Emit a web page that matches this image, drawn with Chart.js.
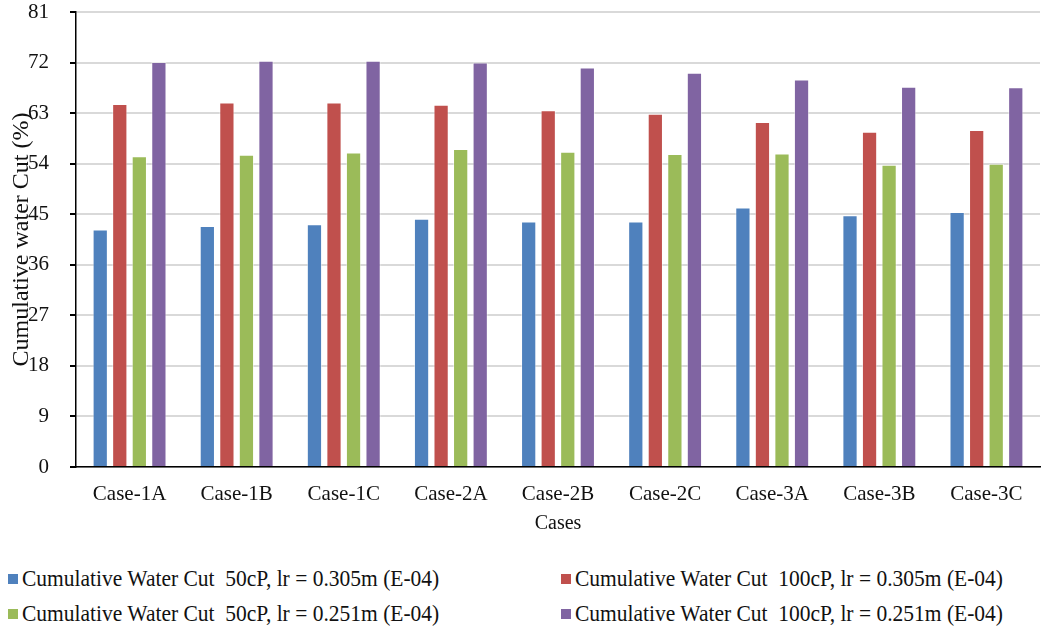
<!DOCTYPE html>
<html lang="en">
    <head>
        <meta charset="UTF-8">
        <title>Cumulative water cut by case</title>
        <script src="https://cdn.jsdelivr.net/npm/chart.js"></script>
        <style>
            body {
                margin: 0;
                background: #ffffff;
                font-family: 'Liberation Serif', 'Times New Roman', serif;
            }

            .chart-box {
                position: absolute;
                left: 0;
                top: 0;
                width: 1043px;
                height: 545px;
            }

            .legend {
                position: absolute;
                left: 0;
                top: 560px;
                width: 1043px;
                height: 74px;
            }

            .legend-item {
                position: absolute;
                display: flex;
                align-items: center;
                font-size: 21.5px;
                color: #111111;
                white-space: pre;
            }

            .legend-item span.box {
                width: 10px;
                height: 10px;
                margin-right: 4px;
            }

            .legend-item span.txt {
                display: inline-block;
                transform: scaleY(1.1);
            }
        </style>
    </head>
    <body>
        <div class="chart-box">
            <canvas id="chart" width="1043" height="545"></canvas>
        </div>
        <div class="legend" id="legend"></div>

        <script>
            const cases = ['Case-1A', 'Case-1B', 'Case-1C', 'Case-2A', 'Case-2B', 'Case-2C', 'Case-3A', 'Case-3B', 'Case-3C'];

            const seriesNames = [
                'Cumulative Water Cut  50cP, lr = 0.305m (E-04)',
                'Cumulative Water Cut  100cP, lr = 0.305m (E-04)',
                'Cumulative Water Cut  50cP, lr = 0.251m (E-04)',
                'Cumulative Water Cut  100cP, lr = 0.251m (E-04)'
            ];

            const wc50_305 = [42.3, 42.9, 43.2, 44.2, 43.7, 43.7, 46.2, 44.8, 45.4];
            const wc100_305 = [64.6, 64.9, 64.9, 64.5, 63.5, 62.9, 61.4, 59.7, 60.0];
            const wc50_251 = [55.3, 55.6, 56.0, 56.6, 56.1, 55.7, 55.8, 53.8, 54.0];
            const wc100_251 = [72.1, 72.3, 72.3, 72.0, 71.1, 70.2, 69.0, 67.7, 67.6];

            const colors = ['#4f81bd', '#c0504d', '#9bbb59', '#8064a2'];
            const yTicks = [0, 9, 18, 27, 36, 45, 54, 63, 72, 81];

            const serif = "'Liberation Serif', 'Times New Roman', serif";
            const allValues = [wc50_305, wc100_305, wc50_251, wc100_251];

            const datasets = allValues.map((vals, i) => ({
                label: seriesNames[i],
                data: vals,
                backgroundColor: colors[i],
                borderColor: 'rgba(255,255,255,0.5)',
                borderWidth: 1,
                barPercentage: 0.78,
                categoryPercentage: 0.73
            }));

            new Chart(document.getElementById('chart').getContext('2d'), {
                type: 'bar',
                data: { labels: cases, datasets },
                options: {
                    responsive: false,
                    animation: false,
                    layout: { padding: { top: 12, right: 3, left: 0, bottom: 0 } },
                    plugins: {
                        legend: { display: false },
                        tooltip: { enabled: false }
                    },
                    scales: {
                        x: {
                            grid: { display: false, drawTicks: false },
                            border: { color: '#000000', width: 1.5 },
                            ticks: {
                                color: '#111111',
                                padding: 15,
                                font: { family: serif, size: 21 }
                            },
                            title: {
                                display: true,
                                text: 'Cases',
                                color: '#111111',
                                padding: { top: 10, bottom: 9 },
                                font: { family: serif, size: 20 }
                            },
                            afterFit: (scale) => {
                                scale.height = 78;
                                scale.paddingLeft = 0;
                                scale.paddingRight = 0;
                            }
                        },
                        y: {
                            min: 0,
                            max: 81,
                            afterBuildTicks: (scale) => {
                                scale.ticks = yTicks.map(v => ({ value: v }));
                            },
                            grid: {
                                color: '#d9d9d9',
                                lineWidth: 2,
                                tickColor: '#000000',
                                tickLength: 6
                            },
                            border: { color: '#000000', width: 1.5 },
                            ticks: {
                                color: '#111111',
                                padding: 21,
                                font: { family: serif, size: 21 }
                            },
                            title: {
                                display: true,
                                text: 'Cumulative water Cut (%)',
                                color: '#111111',
                                padding: { top: 7, bottom: 4 },
                                font: { family: serif, size: 24 }
                            },
                            afterFit: (scale) => {
                                scale.width = 76;
                                scale.paddingTop = 0;
                                scale.paddingBottom = 0;
                            }
                        }
                    }
                }
            });

            // legend in two columns, like the original
            const legend = document.getElementById('legend');
            const spots = [[8, 6], [561, 6], [8, 41], [561, 41]];
            seriesNames.forEach((name, i) => {
                const item = document.createElement('div');
                item.className = 'legend-item';
                item.style.left = spots[i][0] + 'px';
                item.style.top = spots[i][1] + 'px';
                const box = document.createElement('span');
                box.className = 'box';
                box.style.background = colors[i];
                const txt = document.createElement('span');
                txt.className = 'txt';
                txt.textContent = name;
                item.appendChild(box);
                item.appendChild(txt);
                legend.appendChild(item);
            });
        </script>
    </body>
</html>
